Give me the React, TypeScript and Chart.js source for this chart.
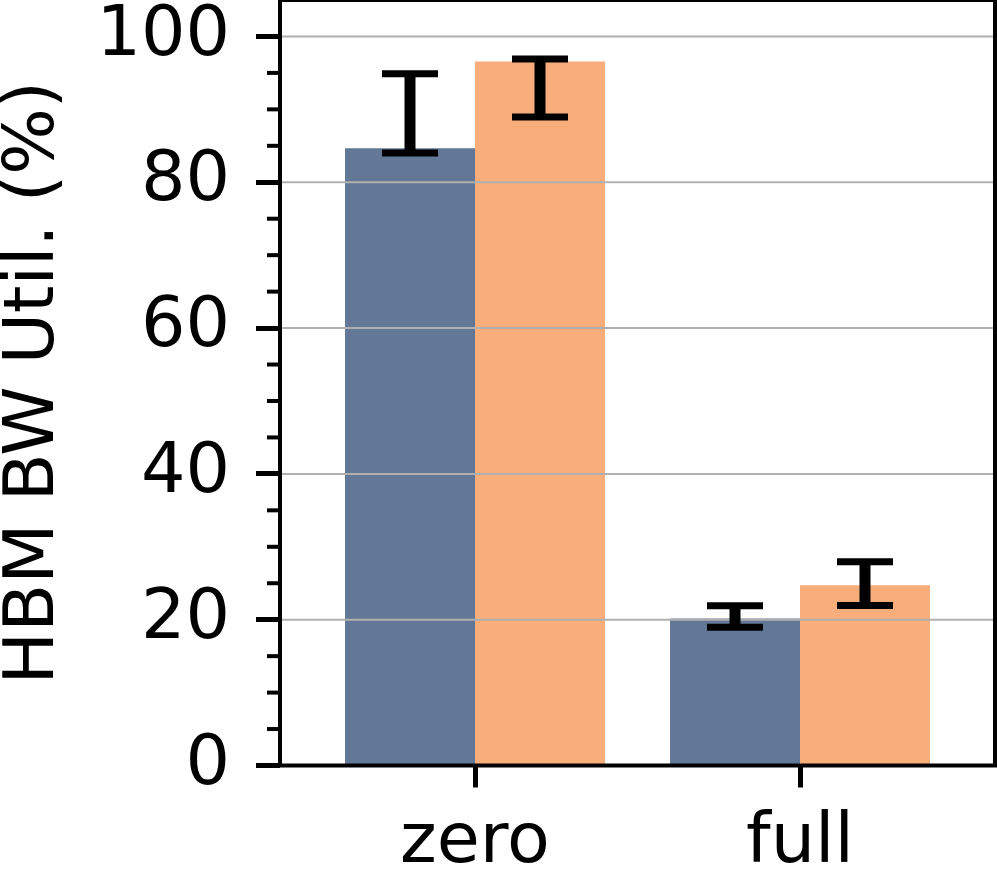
import React, { useEffect, useRef } from "react";
import { Chart, registerables } from "chart.js";

Chart.register(...registerables);

const categories = ["zero", "full"];
const seriesA = [84.65, 20.17];
const seriesB = [96.58, 24.73];
const errLowA = [84.0, 18.98];
const errHighA = [94.89, 21.92];
const errLowB = [88.96, 21.95];
const errHighB = [96.92, 27.95];
const yMajorTicks = [0, 20, 40, 60, 80, 100];
const yMinorTicks = [5, 10, 15, 25, 30, 35, 45, 50, 55, 65, 70, 75, 85, 90, 95];
const yTitle = "HBM BW Util. (%)";
const colorA = "#637896";
const colorB = "#F8AD7B";
const FONT = "'DejaVu Sans', sans-serif";

const overlayPlugin = {
  id: "overlay",
  afterDatasetsDraw(chart: any) {
    const { ctx, chartArea, scales } = chart;
    const y = scales.y;
    ctx.save();
    ctx.strokeStyle = "#b0b0b0";
    ctx.lineWidth = 2;
    yMajorTicks.forEach((v) => {
      const py = y.getPixelForValue(v);
      ctx.beginPath();
      ctx.moveTo(chartArea.left, py);
      ctx.lineTo(chartArea.right, py);
      ctx.stroke();
    });
    const lows = [errLowA, errLowB];
    const highs = [errHighA, errHighB];
    ctx.strokeStyle = "#000";
    [0, 1].forEach((di) => {
      const meta = chart.getDatasetMeta(di);
      meta.data.forEach((bar: any, j: number) => {
        const x = bar.x;
        const yl = y.getPixelForValue(lows[di][j]);
        const yh = y.getPixelForValue(highs[di][j]);
        ctx.lineWidth = 11;
        ctx.beginPath();
        ctx.moveTo(x, yl);
        ctx.lineTo(x, yh);
        ctx.stroke();
        ctx.lineWidth = 7;
        [yl, yh].forEach((py) => {
          ctx.beginPath();
          ctx.moveTo(x - 28, py);
          ctx.lineTo(x + 28, py);
          ctx.stroke();
        });
      });
    });
    ctx.lineWidth = 4;
    yMinorTicks.forEach((v) => {
      const py = y.getPixelForValue(v);
      ctx.beginPath();
      ctx.moveTo(chartArea.left - 13, py);
      ctx.lineTo(chartArea.left, py);
      ctx.stroke();
    });
    ctx.lineWidth = 4;
    ctx.strokeRect(chartArea.left, chartArea.top, chartArea.right - chartArea.left, chartArea.bottom - chartArea.top);
    ctx.restore();
  },
};

export default function App() {
  const ref = useRef<HTMLCanvasElement | null>(null);
  useEffect(() => {
    document.body.style.margin = "0";
    const canvas = ref.current!;
    const chart = new Chart(canvas, {
      type: "bar",
      data: {
        datasets: [
          {
            data: seriesA.map((v, i) => ({ x: i, y: v })),
            backgroundColor: colorA,
            borderWidth: 0,
          },
          {
            data: seriesB.map((v, i) => ({ x: i, y: v })),
            backgroundColor: colorB,
            borderWidth: 0,
          },
        ],
      },
      options: {
        responsive: false,
        animation: false,
        devicePixelRatio: 1,
        layout: { padding: { top: 0, right: 2, left: 0, bottom: 0 } },
        plugins: { legend: { display: false }, tooltip: { enabled: false } },
        datasets: { bar: { categoryPercentage: 0.8, barPercentage: 1.0 } },
        scales: {
          x: {
            type: "linear",
            min: -0.6,
            max: 1.6,
            offset: false,
            grid: {
              offset: false,
              drawOnChartArea: false,
              drawTicks: true,
              tickLength: 22,
              tickWidth: 5,
              tickColor: "#000",
            },
            border: { display: false },
            afterBuildTicks: (scale: any) => {
              scale.ticks = categories.map((_, i) => ({ value: i }));
            },
            afterFit: (scale: any) => {
              scale.height = 117.5;
              scale.paddingLeft = 0;
              scale.paddingRight = 0;
              scale.paddingTop = 0;
              scale.paddingBottom = 0;
            },
            ticks: {
              padding: 14,
              color: "#000",
              font: { family: FONT, size: 70 },
              maxRotation: 0,
              autoSkip: false,
              callback: (v: any) => categories[Math.round(Number(v))] ?? "",
            },
          },
          y: {
            type: "linear",
            min: 0,
            max: 105,
            grid: {
              drawOnChartArea: false,
              drawTicks: true,
              tickLength: 24,
              tickWidth: 5,
              tickColor: "#000",
            },
            border: { display: false },
            afterBuildTicks: (scale: any) => {
              scale.ticks = yMajorTicks.map((v) => ({ value: v }));
            },
            afterFit: (scale: any) => {
              scale.width = 280;
              scale.paddingLeft = 0;
              scale.paddingRight = 0;
              scale.paddingTop = 0;
              scale.paddingBottom = 0;
            },
            ticks: {
              padding: 26,
              color: "#000",
              font: { family: FONT, size: 70 },
              callback: (v: any) => String(v),
            },
            title: {
              display: true,
              text: yTitle,
              color: "#000",
              font: { family: FONT, size: 70, lineHeight: 1 },
              padding: { top: 0, bottom: 0 },
            },
          },
        },
      },
      plugins: [overlayPlugin],
    } as any);
    return () => chart.destroy();
  }, []);
  return (
    <div style={{ position: "fixed", left: 0, top: 0, width: 997, height: 883, background: "#fff" }}>
      <canvas ref={ref} width={997} height={883} style={{ width: 997, height: 883, display: "block" }} />
    </div>
  );
}
